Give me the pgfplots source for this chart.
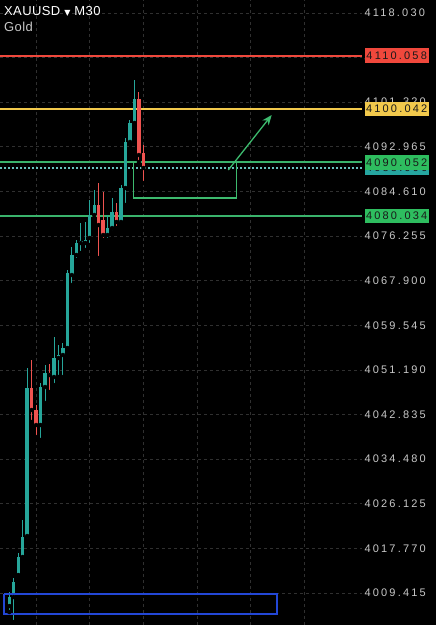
\documentclass[border=0pt]{standalone}
\usepackage{pgfplots}
\usepackage{pgfplotstable}
\pgfplotsset{compat=1.18}
\usetikzlibrary{arrows.meta}
\usepackage{fontspec}
\setmainfont{Liberation Sans}
\newfontfamily\tickfont[LetterSpace=20]{Liberation Sans}
\newfontfamily\titlefont[LetterSpace=3]{Liberation Sans}
\newfontfamily\symfont{DejaVu Sans}
\definecolor{upc}{HTML}{26A69A}
\definecolor{dnc}{HTML}{EF5350}
\definecolor{gridc}{HTML}{303030}
\definecolor{redlev}{RGB}{240,72,60}
\definecolor{yell}{HTML}{F2C94C}
\definecolor{grnlab}{HTML}{2EBD5F}
\definecolor{grnl}{HTML}{3AB36C}
\definecolor{grnbox}{HTML}{3DBA6E}
\definecolor{bluebox}{HTML}{2347D6}
\definecolor{tickc}{HTML}{C8C8C8}
\definecolor{curp}{HTML}{26A6A0}

\pgfplotstableread{
i O H L C
0 4006.97 4009.60 4005.85 4008.66
1 4008.66 4012.22 4003.98 4011.47
2 4012.78 4016.90 4012.22 4016.15
3 4016.15 4023.08 4015.59 4019.90
4 4020.08 4051.54 4019.33 4047.80
7 4040.87 4048.74 4038.06 4047.99
8 4047.99 4052.11 4044.99 4050.61
10 4049.86 4057.35 4048.36 4053.42
11 4053.42 4055.85 4049.86 4053.98
12 4053.98 4056.23 4049.86 4055.29
13 4055.29 4069.90 4054.92 4069.34
14 4068.96 4074.20 4067.09 4072.71
15 4072.71 4075.52 4071.77 4074.95
16 4074.95 4078.70 4073.08 4075.33
17 4074.95 4078.89 4073.64 4075.52
18 4075.89 4083.01 4074.58 4080.20
19 4080.20 4084.88 4079.64 4082.07
22 4076.45 4080.20 4075.52 4077.76
23 4077.76 4083.38 4077.01 4080.76
25 4078.89 4085.82 4078.32 4085.25
26 4085.25 4094.62 4082.07 4093.87
27 4093.87 4097.99 4093.50 4097.43
28 4097.43 4105.48 4097.05 4101.92
}\upc

\pgfplotstableread{
i O H L C
5 4047.80 4053.04 4041.43 4043.68
6 4043.68 4044.62 4038.62 4040.87
9 4050.61 4052.29 4047.05 4050.23
20 4082.07 4086.19 4072.14 4078.32
21 4079.26 4084.50 4075.52 4076.45
24 4080.76 4082.44 4077.76 4078.89
29 4101.92 4103.23 4090.12 4091.43
30 4091.81 4093.31 4086.19 4089.00
}\dnc

\begin{document}
\begin{tikzpicture}
\useasboundingbox (0,0) rectangle (436pt,625pt);
\fill[black] (0,0) rectangle (436pt,625pt);
\begin{axis}[
  at={(0,0)}, anchor=south west,
  width=362pt, height=625pt, scale only axis,
  xmin=-2.08, xmax=78.9, ymin=4003.42, ymax=4120.46,
  axis line style={draw=none},
  xtick={6,18,30,42,54,66}, xticklabels={},
  ytick={4009.415,4017.770,4026.125,4034.480,4042.835,4051.190,4059.545,4067.900,4076.255,4084.610,4092.965,4101.320,4109.675,4118.030},
  yticklabels={4009.415,4017.770,4026.125,4034.480,4042.835,4051.190,4059.545,4067.900,4076.255,4084.610,4092.965,4101.320,4109.675,4118.030},
  yticklabel pos=right,
  yticklabel style={anchor=west, font=\tickfont\fontsize{11}{12}\selectfont, text=tickc, xshift=-1pt},
  major tick length=0pt,
  xmajorgrids, ymajorgrids,
  grid style={dashed, dash pattern=on 3pt off 3pt, color=gridc, line width=0.7pt},
  clip=true,
]
% horizontal levels
\addplot[draw=yell, line width=1.3pt] coordinates {(-2.08,4100.042) (78.9,4100.042)};
\addplot[draw=redlev, line width=2pt] coordinates {(-2.08,4110.058) (78.9,4110.058)};
\addplot[draw=grnl, line width=2pt] coordinates {(-2.08,4090.052) (78.9,4090.052)};
\addplot[draw=curp!70!white, line width=1.1pt, dash pattern=on 2pt off 2pt] coordinates {(-2.08,4089.00) (78.9,4089.00)};
\addplot[draw=grnl, line width=1.4pt] coordinates {(-2.08,4080.034) (78.9,4080.034)};
% wicks
\addplot[only marks, mark=none, error bars/.cd, y dir=plus, y explicit, error mark=none,
  error bar style={draw=upc, line width=1pt}] table[x=i, y=L, y error expr=\thisrow{H}-\thisrow{L}] {\upc};
\addplot[only marks, mark=none, error bars/.cd, y dir=plus, y explicit, error mark=none,
  error bar style={draw=dnc, line width=1pt}] table[x=i, y=L, y error expr=\thisrow{H}-\thisrow{L}] {\dnc};
% bodies
\addplot[only marks, mark=none, error bars/.cd, y dir=plus, y explicit, error mark=none,
  error bar style={draw=upc, line width=3.4pt}] table[x=i, y=O, y error expr=\thisrow{C}-\thisrow{O}] {\upc};
\addplot[only marks, mark=none, error bars/.cd, y dir=plus, y explicit, error mark=none,
  error bar style={draw=dnc, line width=3.4pt}] table[x=i, y=C, y error expr=\thisrow{O}-\thisrow{C}] {\dnc};
% drawings
\addplot[draw=grnbox, line width=1.3pt] coordinates {(27.74,4090.052) (27.74,4083.38) (50.87,4083.38) (50.87,4090.052)};
\addplot[draw=grnbox, line width=1.3pt, -{Stealth[length=10pt,width=8pt]}] coordinates {(48.99,4088.62) (58.7,4098.92)};
\addplot[draw=bluebox, line width=1.3pt] coordinates {(-1.19,4009.22) (59.9,4009.22) (59.9,4005.48) (-1.19,4005.48) (-1.19,4009.22)};
\coordinate (lr) at (axis cs:78.9,4110.058);
\coordinate (ly) at (axis cs:78.9,4100.042);
\coordinate (lg) at (axis cs:78.9,4090.052);
\coordinate (lc) at (axis cs:78.9,4089.00);
\coordinate (lg2) at (axis cs:78.9,4080.034);
\end{axis}
\draw[color=gridc!140, line width=0.8pt] (362.5pt,0) -- (362.5pt,625pt);
\tikzset{lab/.style={anchor=west, inner sep=0pt, minimum width=64pt, minimum height=14.5pt, text=black!90,
  font=\tickfont\fontsize{11}{12}\selectfont, xshift=2.5pt}}
\node[lab, fill=redlev] at (lr) {4110.058};
\node[lab, fill=yell] at (ly) {4100.042};
\node[lab, fill=curp] at (lc) {4088.996};
\node[lab, fill=grnlab] at (lg) {4090.052};
\node[lab, fill=grnlab] at (lg2) {4080.034};
\node[anchor=north west, inner sep=0pt, text=white, font=\titlefont\fontsize{13}{15}\selectfont] at (4pt,619pt)
  {XAUUSD {\symfont\fontsize{8}{10}\selectfont ▼} M30};
\node[anchor=north west, inner sep=0pt, text=white!78!black, font=\titlefont\fontsize{13}{15}\selectfont] at (4pt,603pt) {Gold};
\end{tikzpicture}
\end{document}
